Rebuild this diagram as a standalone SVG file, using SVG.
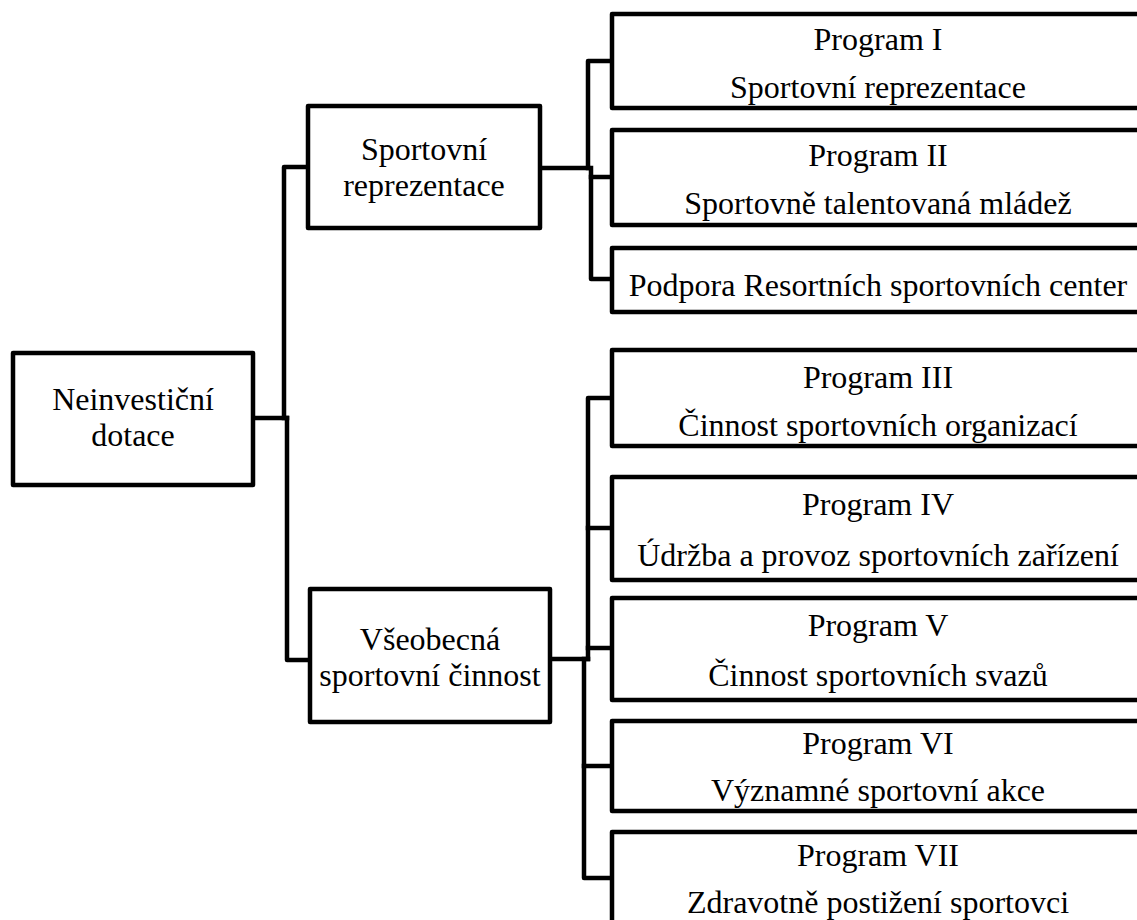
<svg xmlns="http://www.w3.org/2000/svg" width="1137" height="920" viewBox="0 0 1137 920">
<style>
.box{fill:#fff;stroke:#000;stroke-width:4.5;stroke-linejoin:round}
.lbl{font-family:"Liberation Serif","Times New Roman",serif;font-size:32px;fill:#000;text-anchor:middle}
.con{fill:none;stroke:#000;stroke-width:4.5;stroke-linejoin:round;stroke-linecap:square}
</style>
<rect width="1137" height="920" fill="#fff"/>
<g id="connectors">
<path class="con" d="M253,418 H287"/>
<path class="con" d="M308,167 H284 V418"/>
<path class="con" d="M287,418 V660 H310"/>
<path class="con" d="M540,168 H588"/>
<path class="con" d="M612,61 H588 V168"/>
<path class="con" d="M591,168 V279 H612"/>
<path class="con" d="M591,177 H612"/>
<path class="con" d="M550,659 H588"/>
<path class="con" d="M612,398 H588 V659"/>
<path class="con" d="M588,528 H612"/>
<path class="con" d="M588,648 H612"/>
<path class="con" d="M584,659 V878 H612"/>
<path class="con" d="M584,766 H612"/>
</g>
<g id="root">
<rect class="box" x="13" y="353" width="240" height="132"/>
<text class="lbl" x="133" y="410">Neinvestiční</text>
<text class="lbl" x="133" y="446">dotace</text>
</g>
<g id="sportovni-reprezentace">
<rect class="box" x="308" y="106" width="232" height="122"/>
<text class="lbl" x="424" y="160">Sportovní</text>
<text class="lbl" x="424" y="196">reprezentace</text>
</g>
<g id="vseobecna">
<rect class="box" x="310" y="589" width="240" height="133"/>
<text class="lbl" x="430" y="650">Všeobecná</text>
<text class="lbl" x="430" y="686">sportovní činnost</text>
</g>
<g id="program-1">
<rect class="box" x="612" y="14" width="532" height="94"/>
<text class="lbl" x="878" y="50">Program I</text>
<text class="lbl" x="878" y="98">Sportovní reprezentace</text>
</g>
<g id="program-2">
<rect class="box" x="612" y="130" width="532" height="95"/>
<text class="lbl" x="878" y="166">Program II</text>
<text class="lbl" x="878" y="214">Sportovně talentovaná mládež</text>
</g>
<g id="podpora">
<rect class="box" x="612" y="248" width="532" height="64"/>
<text class="lbl" x="878" y="296">Podpora Resortních sportovních center</text>
</g>
<g id="program-3">
<rect class="box" x="612" y="350" width="532" height="96"/>
<text class="lbl" x="878" y="388">Program III</text>
<text class="lbl" x="878" y="436">Činnost sportovních organizací</text>
</g>
<g id="program-4">
<rect class="box" x="612" y="477" width="532" height="103"/>
<text class="lbl" x="878" y="515">Program IV</text>
<text class="lbl" x="878" y="566">Údržba a provoz sportovních zařízení</text>
</g>
<g id="program-5">
<rect class="box" x="612" y="598" width="532" height="102"/>
<text class="lbl" x="878" y="636">Program V</text>
<text class="lbl" x="878" y="686">Činnost sportovních svazů</text>
</g>
<g id="program-6">
<rect class="box" x="612" y="721" width="532" height="90"/>
<text class="lbl" x="878" y="754">Program VI</text>
<text class="lbl" x="878" y="801">Významné sportovní akce</text>
</g>
<g id="program-7">
<rect class="box" x="612" y="832" width="532" height="93"/>
<text class="lbl" x="878" y="866">Program VII</text>
<text class="lbl" x="878" y="913">Zdravotně postižení sportovci</text>
</g>
</svg>
